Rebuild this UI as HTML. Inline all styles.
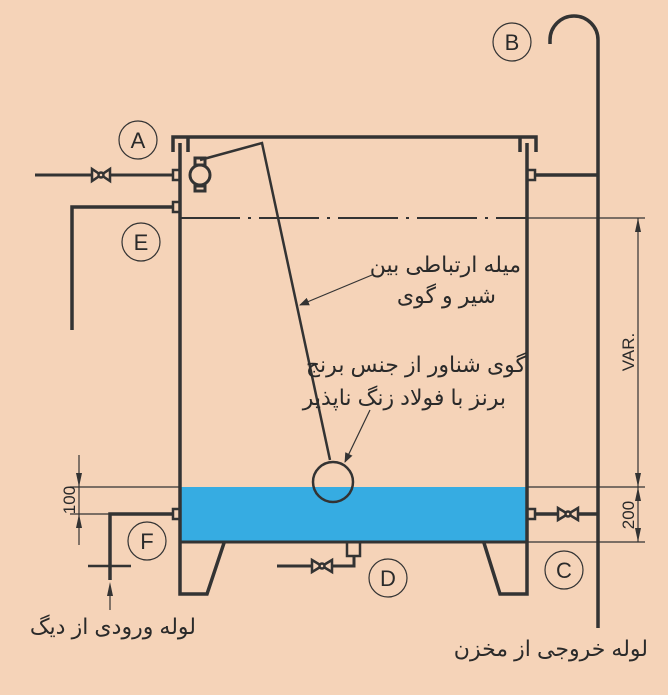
<!DOCTYPE html>
<html><head><meta charset="utf-8"><style>
html,body{margin:0;padding:0;background:#f5d3b8;}
svg{display:block}
text{font-family:"Liberation Sans","DejaVu Sans",sans-serif;fill:#2a2a2a}
.fa{font-size:22px;direction:rtl}
</style></head><body>
<svg width="668" height="695" viewBox="0 0 668 695" xmlns="http://www.w3.org/2000/svg">
<defs>
<marker id="ar" markerWidth="10" markerHeight="8" refX="9" refY="4" orient="auto" markerUnits="userSpaceOnUse"><path d="M0,0 L10,4 L0,8 Z" fill="#333"/></marker>
</defs>
<rect width="668" height="695" fill="#f5d3b8"/>
<rect x="180" y="487" width="347" height="55" fill="#36ace2"/>
<g stroke="#333" fill="none" stroke-width="3.5">
<path d="M173,152 V137 H536 V152"/>
<path d="M188,137 V152 M520,137 V152"/>
<path d="M180,143 V594 H207 L224,543"/>
<path d="M527,143 V594 H500 L484,543"/>
<path d="M180,542 H527" stroke-width="3"/>
<path d="M598,628 V40 A24,24 0 0 0 550,40 V44"/>
<path d="M535,175 H598"/>
<rect x="527" y="170" width="8" height="10" stroke-width="2.5"/>
<path d="M35,175 H173" stroke-width="3"/>
<rect x="173" y="170" width="7" height="10" stroke-width="2.5"/>
<path d="M72,330 V207 H173"/>
<rect x="173" y="202" width="7" height="10" stroke-width="2.5"/>
<path d="M110,580 V514 H173"/>
<rect x="173" y="509" width="7" height="10" stroke-width="2.5"/>
<path d="M88,566 H131" stroke-width="2.5"/>
<path d="M535,514 H598"/>
<rect x="527" y="509" width="8" height="10" stroke-width="2.5"/>
<rect x="347" y="542" width="13" height="14" stroke-width="2.5"/>
<path d="M354,556 V566 H277" stroke-width="3"/>
</g>
<g stroke="#333" stroke-width="2.5" fill="#f5d3b8">
<path d="M92,169 L92,181 L110,169 L110,181 Z"/><circle cx="101" cy="175" r="2.5"/>
<path d="M558,508 L558,520 L578,508 L578,520 Z"/><circle cx="568" cy="514" r="2.5"/>
<path d="M312,560 L312,572 L332,560 L332,572 Z"/><circle cx="322" cy="566" r="2.5"/>
</g>
<g stroke="#333" stroke-width="3" fill="#f5d3b8">
<circle cx="200" cy="175" r="10"/>
<rect x="195" y="158" width="10" height="7"/>
<rect x="195" y="186" width="10" height="5"/>
</g>
<path d="M200,160 L262,143 L330,460" stroke="#333" stroke-width="2.5" fill="none"/>
<circle cx="333" cy="482" r="20" stroke="#333" stroke-width="2.5" fill="none"/>
<path d="M180,218 H527" stroke="#333" stroke-width="2" stroke-dasharray="60,8,3,8" fill="none"/>
<g stroke="#333" stroke-width="1.2" fill="none">
<path d="M527,218 H645 M527,487 H645 M527,542 H645"/>
<path d="M70,487 H180 M70,514 H110"/>
<path d="M638,218 V542"/>
<path d="M79,455 V545"/>
</g>
<g fill="#333">
<path d="M638,218 L635,232 L641,232 Z"/><path d="M638,487 L635,473 L641,473 Z"/>
<path d="M638,487 L635,501 L641,501 Z"/><path d="M638,542 L635,528 L641,528 Z"/>
<path d="M79,487 L76,473 L82,473 Z"/><path d="M79,514 L76,528 L82,528 Z"/>
<path d="M110,582 L107,596 L113,596 Z"/>
</g>
<path d="M110,596 V610" stroke="#333" stroke-width="1.2"/>
<text x="0" y="0" font-size="17" transform="translate(75,500) rotate(-90)" text-anchor="middle">100</text>
<text x="0" y="0" font-size="17" transform="translate(634,515) rotate(-90)" text-anchor="middle">200</text>
<text x="0" y="0" font-size="17" transform="translate(634,352) rotate(-90)" text-anchor="middle">VAR.</text>
<path d="M372,275 L300,305" stroke="#333" stroke-width="1.2" marker-end="url(#ar)"/>
<path d="M370,410 L345,462" stroke="#333" stroke-width="1.2" marker-end="url(#ar)"/>
<g stroke="#333" stroke-width="1.2" fill="none">
<circle cx="138" cy="140" r="19"/><circle cx="512" cy="42" r="19"/>
<circle cx="141" cy="242" r="19"/><circle cx="147" cy="541" r="19"/>
<circle cx="388" cy="578" r="19"/><circle cx="564" cy="570" r="19"/>
</g>
<g font-size="22" text-anchor="middle">
<text x="138" y="148">A</text><text x="512" y="50">B</text>
<text x="141" y="250">E</text><text x="147" y="549">F</text>
<text x="388" y="586">D</text><text x="564" y="578">C</text>
</g>
<g class="fa" text-anchor="start">
<text x="521" y="272">میله ارتباطی بین</text>
<text x="496" y="303">شیر و گوی</text>
<text x="526" y="372">گوی شناور از جنس برنج</text>
<text x="506" y="405">برنز با فولاد زنگ ناپذیر</text>
<text x="196" y="634">لوله ورودی از دیگ</text>
<text x="648" y="656">لوله خروجی از مخزن</text>
</g>
</svg>
</body></html>
